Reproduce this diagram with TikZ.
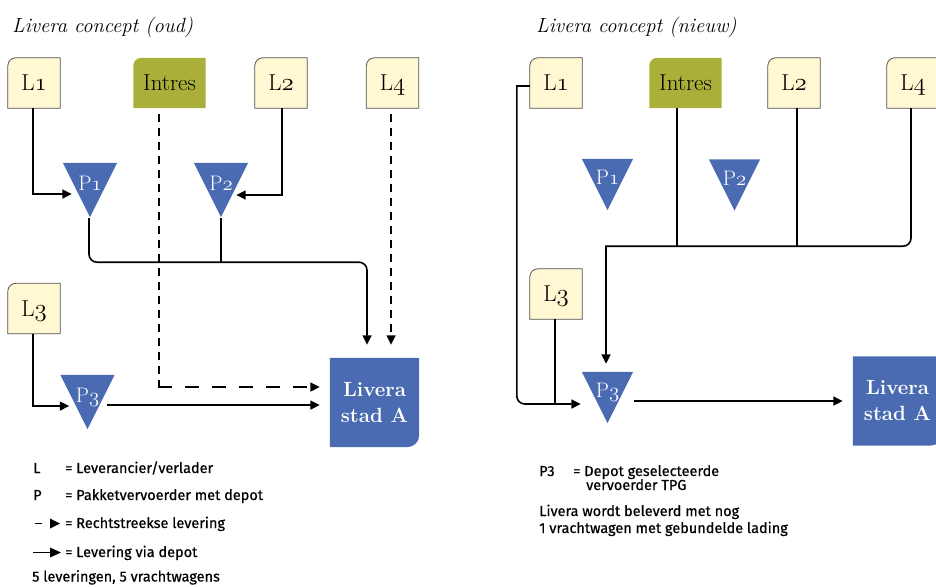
\documentclass[tikz,border=0pt]{standalone}
\usepackage{fontspec}
\newfontfamily\legfont[FakeBold=0.6]{Fira Sans}
\usetikzlibrary{arrows.meta,backgrounds,calc}
\definecolor{lyel}{HTML}{FFF8D2}
\definecolor{intresgreen}{HTML}{A9AF38}
\definecolor{livblue}{HTML}{4A6BB1}
\definecolor{bord}{HTML}{505050}
\newcommand\osn[1]{{\usefont{OML}{lmm}{m}{it}#1}}
\tikzset{
  lbox/.style={minimum width=52pt,minimum height=50pt,inner sep=0pt,text height=15.5pt,text depth=0pt,font=\fontsize{23}{27}\selectfont},
  ibox/.style={lbox,minimum width=72pt},
  pnode/.style={minimum width=54pt,minimum height=54pt,inner sep=0pt},
  pnodeb/.style={minimum width=51pt,minimum height=51pt,inner sep=0pt},
  ptext/.style={text=white,inner sep=0pt,text height=14pt,text depth=0pt,font=\fontsize{21}{24}\selectfont},
  livnode/.style={minimum width=89pt,minimum height=89pt,inner sep=0pt,text=white,align=center,font=\bfseries\fontsize{20.5}{26}\selectfont},
  titletext/.style={anchor=base west,inner sep=0pt,font=\itshape\fontsize{20.5}{24}\selectfont},
  legtext/.style={anchor=base west,inner sep=0pt,font=\legfont\fontsize{14.5}{17}\selectfont},
  ln/.style={line width=1.6pt},
  arr/.style={ln,-{Triangle[length=9.5pt,width=9pt]}},
  vdash/.style={ln,dash pattern=on 8pt off 6pt,dash phase=8pt},
  hdash/.style={ln,dash pattern=on 14pt off 13pt},
}
\begin{document}
\begin{tikzpicture}[x=1pt,y=1pt]
\useasboundingbox (0,0) rectangle (936,-586);
% ---------- titles
\node[titletext] (aTitle) at (12,-33) {Livera concept (oud)};
\node[titletext] (bTitle) at (536,-33) {Livera concept (nieuw)};
% ---------- left panel nodes
\node[lbox] (aL1) at (34,-83) {L\osn{1}};
\node[ibox] (aIn) at (169.5,-83) {Intres};
\node[lbox] (aL2) at (281,-83) {L\osn{2}};
\node[lbox] (aL4) at (392.5,-83) {L\osn{4}};
\node[lbox] (aL3) at (34,-308.5) {L\osn{3}};
\node[pnode] (aP1) at (90,-190) {};
\node[pnode] (aP2) at (221,-190) {};
\node[pnode] (aP3) at (87.5,-402) {};
\node[ptext] (aP1t) at ([yshift=7pt]aP1.center) {P\osn{1}};
\node[ptext] (aP2t) at ([yshift=7pt]aP2.center) {P\osn{2}};
\node[ptext] (aP3t) at ([yshift=7pt]aP3.center) {P\osn{3}};
\node[livnode] (aLiv) at (374.5,-402.5) {Livera\\stad A};
% ---------- right panel nodes
\node[lbox] (bL1) at (556,-83) {L\osn{1}};
\node[ibox] (bIn) at (685.5,-83) {Intres};
\node[lbox] (bL2) at (794,-83) {L\osn{2}};
\node[lbox] (bL4) at (913,-83) {L\osn{4}};
\node[lbox] (bL3) at (556,-294) {L\osn{3}};
\node[pnodeb] (bP1) at (607.5,-184.5) {};
\node[pnodeb] (bP2) at (734.5,-185) {};
\node[pnodeb] (bP3) at (607.5,-397.5) {};
\node[ptext] (bP1t) at ([yshift=7pt]bP1.center) {P\osn{1}};
\node[ptext] (bP2t) at ([yshift=7pt]bP2.center) {P\osn{2}};
\node[ptext] (bP3t) at ([yshift=7pt]bP3.center) {P\osn{3}};
\node[livnode] (bLiv) at (897.5,-401) {Livera\\stad A};
% ---------- shapes behind text
\begin{scope}[on background layer]
  \foreach \n in {aL1,aL2,aL4,aL3,bL1,bL2,bL4,bL3}
    \filldraw[fill=lyel,draw=bord,line width=0.8pt] (\n.south west) -- ([yshift=-8pt]\n.north west) arc[start angle=180,end angle=90,radius=8pt] -- (\n.north east) -- (\n.south east) -- cycle;
  \foreach \n in {aIn,bIn}
    \fill[intresgreen] (\n.south west) -- ([yshift=-8pt]\n.north west) arc[start angle=180,end angle=90,radius=8pt] -- (\n.north east) -- (\n.south east) -- cycle;
  \foreach \n in {aP1,aP2,aP3,bP1,bP2,bP3}
    \fill[livblue] (\n.north west) -- (\n.north east) -- (\n.south) -- cycle;
  \foreach \n in {aLiv,bLiv}
    \fill[livblue] (\n.north west) -- (\n.north east) -- ([yshift=12pt]\n.south east) arc[start angle=0,end angle=-90,radius=12pt] -- (\n.south west) -- cycle;
\end{scope}
% ---------- left connectors
\draw[arr] ([xshift=-1pt]aL1.south) |- ([xshift=9pt,yshift=-4pt]aP1.west);
\draw[arr] ([xshift=1pt]aL2.south) |- ([xshift=-12pt,yshift=-5pt]aP2.east);
\draw[arr,rounded corners=8pt] ([xshift=-1pt,yshift=-1pt]aP1.south) -- ++(0,-44) -| ([xshift=-7.5pt,yshift=13pt]aLiv.north);
\draw[ln] ([yshift=-1pt]aP2.south) -- ++(0,-44);
\coordinate (aIc) at ([xshift=-10.5pt]aIn.south |- 0,-387);
\draw[vdash] ([xshift=-10.5pt]aIn.south) -- (aIc);
\draw[hdash,-{Triangle[length=9.5pt,width=9pt]}] ([xshift=-0.8pt]aIc) -- ([xshift=-10pt,yshift=15.5pt]aLiv.west);
\draw[vdash,-{Triangle[length=9.5pt,width=9pt]}] ([xshift=-1.5pt]aL4.south) -- ([xshift=16.5pt,yshift=13pt]aLiv.north);
\draw[arr] ([xshift=-1pt]aL3.south) |- ([xshift=9pt,yshift=-4pt]aP3.west);
\draw[arr] ([xshift=-7.5pt,yshift=-3pt]aP3.east) -- ([xshift=-10pt,yshift=-2.5pt]aLiv.west);
% ---------- right connectors
\draw[arr] ([yshift=-3pt]bL1.west) -- ++(-13,0) -- ++(0,-310) arc[start angle=180,end angle=270,radius=8pt] -- ([xshift=-1pt,yshift=-6.5pt]bP3.west);
\draw[ln] ([xshift=-1pt]bL3.south) -- ++(0,-85);
\draw[ln] ([xshift=-8.5pt]bIn.south) -- ++(0,-138);
\draw[ln] ([xshift=3pt]bL2.south) -- ++(0,-138);
\draw[arr] ([xshift=-2pt]bL4.south) -- ++(0,-130) arc[start angle=0,end angle=-90,radius=8pt] -| ([xshift=-1.5pt,yshift=8pt]bP3.north);
\draw[arr] ([xshift=1pt,yshift=-3.5pt]bP3.east) -- ([xshift=-10pt]bLiv.west);
% ---------- left legend
\node[legtext] (lgL) at (33,-473) {L};
\node[legtext] (lgLt) at (65,-473) {= Leverancier/verlader};
\node[legtext] (lgP) at (33,-500) {P};
\node[legtext] (lgPt) at (65,-500) {= Pakketvervoerder met depot};
\draw[line width=1.4pt] (35,-523.5) -- (42,-523.5);
\fill (50,-518.5) -- (60,-523.5) -- (50,-528.5) -- cycle;
\node[legtext] (lgDt) at (65,-528) {= Rechtstreekse levering};
\draw[line width=1.4pt] (33,-552.5) -- (52,-552.5);
\fill (50,-547.5) -- (61,-552.5) -- (50,-557.5) -- cycle;
\node[legtext] (lgSt) at (65,-557) {= Levering via depot};
\node[legtext] (lg5) at (32,-581.5) {5 leveringen, 5 vrachtwagens};
% ---------- right legend
\node[legtext] (rgP) at (539,-476) {P3};
\node[legtext] (rgPt) at (573,-476) {= Depot geselecteerde};
\node[legtext] (rgPt2) at (586,-490) {vervoerder TPG};
\node[legtext] (rgA) at (539,-516) {Livera wordt beleverd met nog};
\node[legtext] (rgB) at (539,-533) {1 vrachtwagen met gebundelde lading};
\end{tikzpicture}
\end{document}
